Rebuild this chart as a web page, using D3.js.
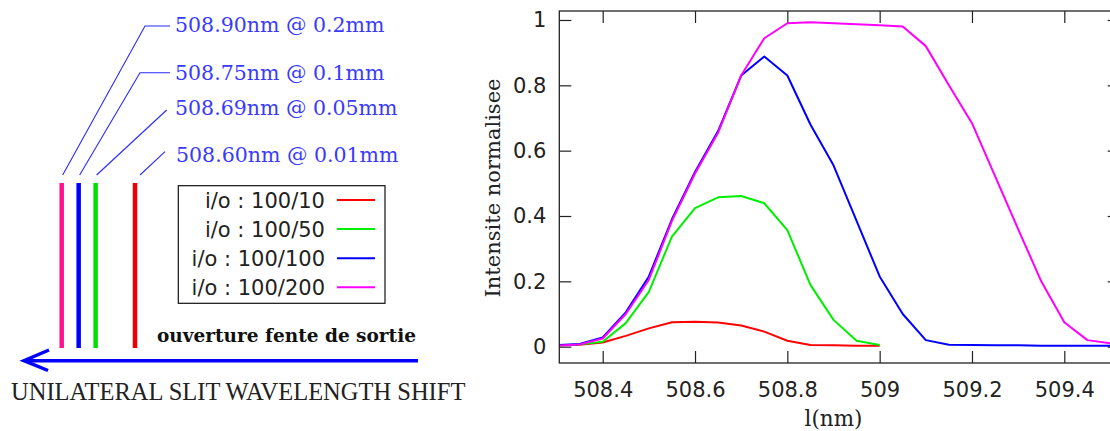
<!DOCTYPE html>
<html><head><meta charset="utf-8">
<script src="https://cdn.jsdelivr.net/npm/d3@7"></script>
<style>html,body{margin:0;padding:0;background:#fff;overflow:hidden}</style>
</head><body><svg id="c" width="1110" height="431"></svg>
<script>
// ---- data ----
const wavelengths = [508.30,508.35,508.40,508.45,508.50,508.55,508.60,508.65,508.70,508.75,508.80,508.85,508.90,508.95,509.00,509.05,509.10,509.15,509.20,509.25,509.30,509.35,509.40,509.45,509.50];
const seriesNames = ["i/o : 100/10","i/o : 100/50","i/o : 100/100","i/o : 100/200"];
const io10  = [0.004,0.006,0.013,0.033,0.056,0.075,0.076,0.074,0.065,0.046,0.018,0.005,0.004,0.003,0.003];
const io50  = [0.004,0.007,0.015,0.072,0.168,0.337,0.424,0.457,0.461,0.439,0.357,0.189,0.082,0.018,0.005];
const io100 = [0.005,0.008,0.028,0.105,0.215,0.390,0.535,0.660,0.830,0.888,0.830,0.680,0.555,0.385,0.215,0.100,0.020,0.006,0.005,0.004,0.004,0.003,0.003,0.003,0.003];
const io200 = [0.003,0.007,0.025,0.100,0.205,0.385,0.530,0.655,0.830,0.944,0.990,0.993,0.990,0.987,0.984,0.980,0.920,0.800,0.684,0.522,0.360,0.200,0.075,0.020,0.010];
const xTicks = [508.4,508.6,508.8,509.0,509.2,509.4];
const xTickLabels = ["508.4","508.6","508.8","509","509.2","509.4"];
const yTicks = [0,0.2,0.4,0.6,0.8,1];
const yTickLabels = ["0","0.2","0.4","0.6","0.8","1"];
// left schematic
const peakLabels = ["508.90nm @ 0.2mm","508.75nm @ 0.1mm","508.69nm @ 0.05mm","508.60nm @ 0.01mm"];
const slitWidths = [0.2,0.1,0.05,0.01];
const xLabel = "l(nm)", yLabel = "Intensite normalisee";
const arrowLabel = "ouverture fente de sortie";
const title = "UNILATERAL SLIT WAVELENGTH SHIFT";

const colors = ["#ff0000","#00ee00","#0000ff","#ff00ff"];
const barColors = ["#ff1090","#0000ff","#00e000","#ee0000"];
const series = [io10,io50,io100,io200].map((v,i)=>({name:seriesNames[i],color:colors[i],pts:v.map((y,j)=>[wavelengths[j],y])}));

const svg = d3.select("#c");
const L=559.3, R=1119.7, T=11, B=363;
const x = d3.scaleLinear().domain([508.306,509.520]).range([L,R]);
const y = d3.scaleLinear().domain([-0.05,1.0275]).range([B,T]);

svg.append("defs").append("clipPath").attr("id","pc").append("rect")
  .attr("x",L).attr("y",T).attr("width",R-L).attr("height",B-T);

const tickFont = "'DejaVu Sans', sans-serif";
function styleAxis(g){
  g.select(".domain").remove();
  g.selectAll("line").attr("stroke","#222").attr("stroke-width",1.2);
  g.selectAll("text").attr("fill","#222").style("font-family",tickFont).style("font-size","21px");
}
svg.append("g").attr("transform",`translate(0,${B})`)
  .call(d3.axisBottom(x).tickValues(xTicks).tickFormat((d,i)=>xTickLabels[i]).tickSize(-12).tickPadding(19)).call(styleAxis);
svg.append("g").attr("transform",`translate(0,${T})`)
  .call(d3.axisTop(x).tickValues(xTicks).tickFormat("").tickSize(-12)).call(styleAxis);
svg.append("g").attr("transform",`translate(${L},0)`)
  .call(d3.axisLeft(y).tickValues(yTicks).tickFormat((d,i)=>yTickLabels[i]).tickSize(-12).tickPadding(13)).call(styleAxis);
svg.append("g").attr("transform",`translate(${R},0)`)
  .call(d3.axisRight(y).tickValues(yTicks).tickFormat("").tickSize(-12)).call(styleAxis);

const line = d3.line().x(d=>x(d[0])).y(d=>y(d[1]));
svg.append("g").attr("clip-path","url(#pc)").selectAll("path").data(series).join("path")
  .attr("d",d=>line(d.pts)).attr("fill","none").attr("stroke",d=>d.color).attr("stroke-width",2).attr("stroke-linejoin","round");

svg.append("rect").attr("x",L).attr("y",T).attr("width",R-L).attr("height",B-T)
  .attr("fill","none").attr("stroke","#222").attr("stroke-width",1.3);

// axis labels
svg.append("text").attr("transform",`translate(500,188) rotate(-90)`).attr("text-anchor","middle")
  .style("font-family","'DejaVu Serif', serif").style("font-size","21px").attr("fill","#222").text(yLabel);
svg.append("text").attr("x",(L+R)/2-6).attr("y",426).attr("text-anchor","middle")
  .style("font-family","'DejaVu Serif', serif").style("font-size","21.5px").attr("fill","#222").text(xLabel);

// ---- left schematic ----
const bx = d3.scaleLog().domain([0.01,0.2]).range([135,61.7]);
const barTop=183, barBot=348;
const lab = svg.append("g");
lab.selectAll("line.bar").data(slitWidths).join("line").attr("class","bar")
  .attr("x1",d=>bx(d)).attr("x2",d=>bx(d)).attr("y1",barTop).attr("y2",barBot)
  .attr("stroke",(d,i)=>barColors[i]).attr("stroke-width",4.5);
const labelPos = [{ty:32,lx:145,ly:26,h:true},{ty:80,lx:140,ly:72.7,h:true},{ty:115,lx:166.7,ly:110,h:false},{ty:161.5,lx:165,ly:151.7,h:false}];
slitWidths.forEach((w,i)=>{
  const p = labelPos[i];
  const pts = [[bx(w)+ (i===3?5:1),175]];
  if(p.h){ pts.push([p.lx,p.ly],[170,p.ly]); } else { pts.push([p.lx,p.ly]); }
  lab.append("path").attr("d",d3.line()(pts)).attr("fill","none").attr("stroke","#2a2aff").attr("stroke-width",1.1);
  lab.append("text").attr("x",i===3?176:175).attr("y",p.ty).attr("fill","#3a3aff")
    .style("font-family","'DejaVu Serif', serif").style("font-size","20.5px").text(peakLabels[i]);
});

// legend
const lg = svg.append("g");
lg.append("rect").attr("x",178.3).attr("y",185.7).attr("width",206.7).attr("height",117.6).attr("fill","#fff").attr("stroke","#111").attr("stroke-width",1.2);
series.forEach((s,i)=>{
  const cy = 200 + i*29.1;
  lg.append("text").attr("x",325).attr("y",cy).attr("dy","0.36em").attr("text-anchor","end")
    .style("font-family",tickFont).style("font-size","21px").attr("fill","#222").text(s.name);
  lg.append("line").attr("x1",337).attr("x2",375).attr("y1",cy).attr("y2",cy).attr("stroke",s.color).attr("stroke-width",2);
});

// arrow
svg.append("text").attr("x",157).attr("y",341.5).style("font-family","'DejaVu Serif', serif").style("font-weight","bold")
  .style("font-size","18.5px").attr("fill","#111").text(arrowLabel);
svg.append("line").attr("x1",418).attr("x2",25).attr("y1",360.7).attr("y2",360.7).attr("stroke","#0000ff").attr("stroke-width",3.5);
svg.append("path").attr("d","M49,350 L24,360.7 L48,370.5").attr("fill","none").attr("stroke","#0000ff").attr("stroke-width",3.5).attr("stroke-linejoin","miter");
svg.append("text").attr("x",11).attr("y",400).style("font-family","'Liberation Serif', serif")
  .style("font-size","24.5px").attr("fill","#222").text(title);
</script></body></html>
